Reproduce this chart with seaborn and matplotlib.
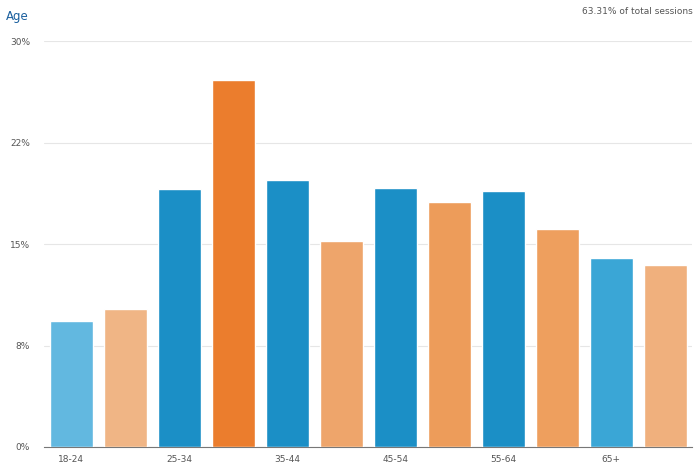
import numpy as np
import pandas as pd
import seaborn as sns
from matplotlib import pyplot as plt

sns.set_style('white')
plt.rcParams['font.family'] = ['DejaVu Sans']

# each age group: two bars (first blue, second orange)
categories = ['18-24 a', '18-24 b', '25-34 a', '25-34 b', '35-44 a', '35-44 b',
              '45-54 a', '45-54 b', '55-64 a', '55-64 b', '65+ a', '65+ b']
tick_labels = ['18-24', '', '25-34', '', '35-44', '', '45-54', '', '55-64', '', '65+', '']
values = [9.3, 10.2, 19.07, 27.1, 19.73, 15.2, 19.14, 18.1, 18.92, 16.1, 13.97, 13.45]
colors = ['#62b8e0', '#f0b585', '#1b8fc6', '#eb7d2d', '#1b8fc6', '#eea56b',
          '#1b8fc6', '#ed9c5a', '#1b8fc6', '#ee9f5e', '#3aa6d6', '#f0b07d']
y_ticks = [0, 7.5, 15, 22.5, 30]
y_labels = ['0%', '8%', '15%', '22%', '30%']

df = pd.DataFrame({'cat': categories, 'val': values})

fig = plt.figure(figsize=(7, 4.72), dpi=100)
ax = fig.add_axes([0.063, 0.053, 0.926, 0.860])
sns.barplot(data=df, x='cat', y='val', hue='cat', palette=colors, legend=False,
            width=0.8, saturation=1, ax=ax, zorder=3)

ax.set_ylim(0, 30)
ax.set_xlim(-0.5, 11.5)
ax.set_yticks(y_ticks)
ax.set_yticklabels(y_labels)
ax.set_xticks(range(0, 12, 2))
ax.set_xticklabels([tick_labels[i] for i in range(0, 12, 2)])
ax.tick_params(axis='both', labelsize=6.5, colors='#555555')
ax.tick_params(axis='y', length=0, pad=10)
ax.tick_params(axis='x', length=3, color='#999999', pad=3)
ax.grid(axis='y', color='#e6e6e6', linewidth=0.8, zorder=0)
ax.set_xlabel('')
ax.set_ylabel('')
for s in ['top', 'right', 'left']:
    ax.spines[s].set_visible(False)
ax.spines['bottom'].set_color('#777777')
ax.spines['bottom'].set_linewidth(0.8)

fig.text(0.008, 0.965, 'Age', color='#1a5f9e', fontsize=8.5, va='center')
fig.text(0.99, 0.975, '63.31% of total sessions', color='#555555', fontsize=6.5,
         ha='right', va='center')

fig.savefig('out.png', dpi=100)
